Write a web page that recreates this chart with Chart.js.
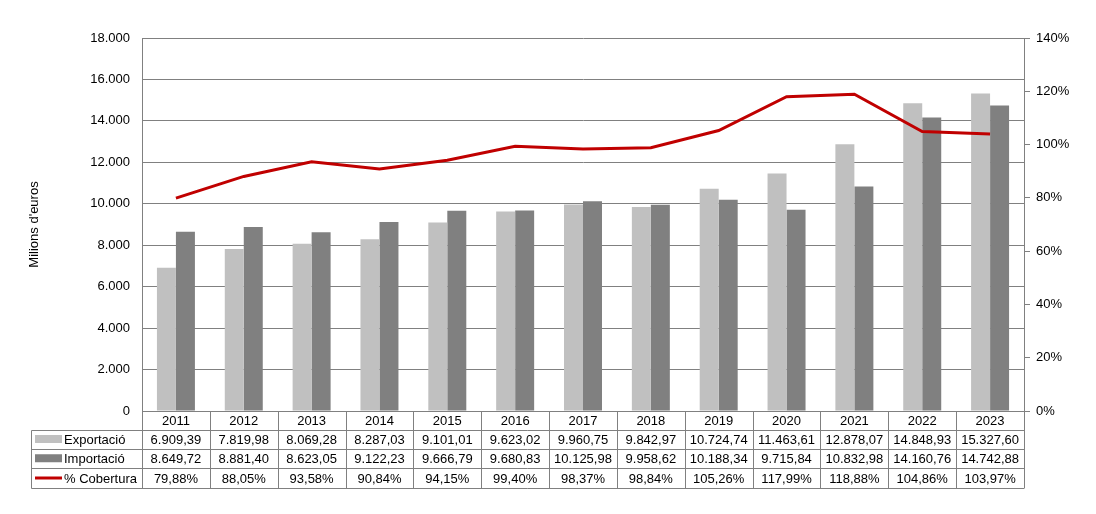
<!DOCTYPE html>
<html>
<head>
<meta charset="utf-8">
<script src="https://cdn.jsdelivr.net/npm/chart.js@4/dist/chart.umd.min.js"></script>
<style>
  html, body { margin: 0; padding: 0; background: #fff; }
  #wrap { width: 1096px; height: 514px; }
</style>
</head>
<body>
<div id="wrap"><canvas id="grafic" width="1096" height="514"></canvas></div>
<script>
// Dades del gràfic
const anys = ['2011', '2012', '2013', '2014', '2015', '2016', '2017', '2018', '2019', '2020', '2021', '2022', '2023'];
const exportacio = [6909.39, 7819.98, 8069.28, 8287.03, 9101.01, 9623.02, 9960.75, 9842.97, 10724.74, 11463.61, 12878.07, 14848.93, 15327.60];
const importacio = [8649.72, 8881.40, 8623.05, 9122.23, 9666.79, 9680.83, 10125.98, 9958.62, 10188.34, 9715.84, 10832.98, 14160.76, 14742.88];
const cobertura = [79.88, 88.05, 93.58, 90.84, 94.15, 99.40, 98.37, 98.84, 105.26, 117.99, 118.88, 104.86, 103.97];

const FONT = '"Liberation Sans", Arial, sans-serif';
const MIDA = 13;
const GRIS = '#808080';

// Format català: milers amb punt, decimals amb coma
function formatNum(v, dec) {
    const parts = v.toFixed(dec).split('.');
    parts[0] = parts[0].replace(/\B(?=(\d{3})+(?!\d))/g, '.');
    return parts.join(',');
}

// Taula de dades sota el gràfic
const taulaPlugin = {
    id: 'taula',
    afterDraw(chart) {
        const ctx = chart.ctx;
        const area = chart.chartArea;
        const n = anys.length;
        const w = (area.right - area.left) / n;
        const files = [area.bottom, 429.5, 448.5, 468, 488];
        const esquerra = 31.5;

        ctx.save();
        ctx.strokeStyle = GRIS;
        ctx.lineWidth = 1;
        ctx.beginPath();
        // línies horitzontals
        ctx.moveTo(area.left, Math.round(files[0]) + 0.5);
        ctx.lineTo(area.right, Math.round(files[0]) + 0.5);
        for (let r = 1; r < files.length; r++) {
            ctx.moveTo(esquerra, Math.round(files[r]) + 0.5);
            ctx.lineTo(area.right, Math.round(files[r]) + 0.5);
        }
        // línies verticals
        ctx.moveTo(esquerra, Math.round(files[1]) + 0.5);
        ctx.lineTo(esquerra, Math.round(files[4]) + 0.5);
        for (let i = 0; i <= n; i++) {
            const x = Math.round(area.left + i * w) + 0.5;
            ctx.moveTo(x, Math.round(files[0]) + 0.5);
            ctx.lineTo(x, Math.round(files[4]) + 0.5);
        }
        ctx.stroke();

        ctx.fillStyle = '#000';
        ctx.font = MIDA + 'px ' + FONT;
        ctx.textBaseline = 'middle';
        ctx.textAlign = 'center';
        const files_text = [
            anys,
            exportacio.map(v => formatNum(v, 2)),
            importacio.map(v => formatNum(v, 2)),
            cobertura.map(v => formatNum(v, 2) + '%')
        ];
        for (let r = 0; r < 4; r++) {
            const yc = (files[r] + files[r + 1]) / 2 + 1;
            for (let i = 0; i < n; i++) {
                const xc = chart.scales.x.getPixelForValue(i);
                ctx.fillText(files_text[r][i], xc, yc);
            }
        }

        // llegenda dins la taula
        const series = [
            { nom: 'Exportació', color: '#C0C0C0', tipus: 'barra' },
            { nom: 'Importació', color: GRIS, tipus: 'barra' },
            { nom: '% Cobertura', color: '#C00000', tipus: 'linia' }
        ];
        ctx.textAlign = 'left';
        series.forEach((s, k) => {
            const yc = (files[k + 1] + files[k + 2]) / 2;
            if (s.tipus === 'barra') {
                ctx.fillStyle = s.color;
                ctx.fillRect(35, yc - 4, 27, 8);
            } else {
                ctx.strokeStyle = s.color;
                ctx.lineWidth = 3;
                ctx.beginPath();
                ctx.moveTo(35, yc);
                ctx.lineTo(62, yc);
                ctx.stroke();
            }
            ctx.fillStyle = '#000';
            ctx.fillText(s.nom, 64, yc + 1);
        });
        ctx.restore();
    }
};

const ctx = document.getElementById('grafic').getContext('2d');
new Chart(ctx, {
    type: 'bar',
    data: {
        labels: anys,
        datasets: [
            {
                label: 'Exportació',
                data: exportacio,
                backgroundColor: '#C0C0C0',
                yAxisID: 'y',
                order: 1,
                categoryPercentage: 0.56,
                barPercentage: 1
            },
            {
                label: 'Importació',
                data: importacio,
                backgroundColor: GRIS,
                yAxisID: 'y',
                order: 1,
                categoryPercentage: 0.56,
                barPercentage: 1
            },
            {
                type: 'line',
                label: '% Cobertura',
                data: cobertura,
                borderColor: '#C00000',
                borderWidth: 3,
                pointRadius: 0,
                tension: 0,
                yAxisID: 'y1',
                order: 0
            }
        ]
    },
    options: {
        responsive: false,
        animation: false,
        devicePixelRatio: 1,
        layout: { padding: { top: 38, bottom: 103, left: 0, right: 0 } },
        plugins: {
            legend: { display: false },
            tooltip: { enabled: false }
        },
        scales: {
            x: { display: false },
            y: {
                position: 'left',
                min: 0,
                max: 18000,
                afterFit(scale) { scale.width = 142; },
                ticks: {
                    stepSize: 2000,
                    padding: 12,
                    color: '#000',
                    font: { family: FONT, size: MIDA },
                    callback: v => formatNum(v, 0)
                },
                grid: { color: GRIS, drawTicks: false },
                border: { color: GRIS },
                title: {
                    display: true,
                    text: "Milions d'euros",
                    color: '#000',
                    font: { family: FONT, size: MIDA },
                    padding: { top: 27, bottom: 0 }
                }
            },
            y1: {
                position: 'right',
                min: 0,
                max: 140,
                afterFit(scale) { scale.width = 72; },
                ticks: {
                    stepSize: 20,
                    padding: 6,
                    color: '#000',
                    font: { family: FONT, size: MIDA },
                    callback: v => v + '%'
                },
                grid: { drawOnChartArea: false, color: GRIS, tickLength: 6 },
                border: { color: GRIS }
            }
        }
    },
    plugins: [taulaPlugin]
});
</script>
</body>
</html>
